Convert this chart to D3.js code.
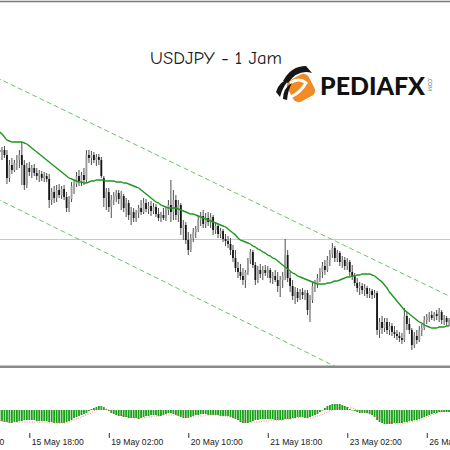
<!DOCTYPE html>
<html>
<head>
<meta charset="utf-8">
<script src="https://cdn.jsdelivr.net/npm/d3@7"></script>
<style>
  body { margin: 0; background: #fff; }
  svg { display: block; }
</style>
</head>
<body>
<svg id="chart" width="450" height="450"></svg>
<script>
// USDJPY H1 candles, 15 May 06:00 .. 26 May 19:00 (one value per bar)
var open = [145.04,145.00,145.04,144.94,144.48,144.74,144.64,144.78,144.84,144.94,
  144.74,144.34,144.68,144.60,144.68,144.58,144.52,144.56,144.48,144.52,
  144.46,144.04,144.20,144.08,144.24,144.14,144.26,144.10,143.88,144.06,
  144.32,144.36,144.52,144.42,144.54,144.44,144.94,144.88,144.94,144.84,
  144.90,144.84,144.48,144.08,144.20,143.90,144.04,144.12,144.18,144.06,
  144.12,143.88,143.98,143.74,143.80,143.68,143.78,143.88,143.80,143.98,
  143.86,143.92,143.82,143.90,143.76,143.68,143.74,143.68,143.84,143.94,
  143.80,144.04,143.74,143.94,143.48,143.54,143.24,143.04,143.28,143.40,
  143.46,143.64,143.72,143.56,143.68,143.60,143.70,143.44,143.52,143.36,
  143.42,143.26,143.22,143.16,143.04,142.88,142.68,142.60,142.52,142.44,
  142.60,142.84,143.00,142.74,142.44,142.64,142.56,142.64,142.58,142.64,
  142.48,142.52,142.44,142.32,142.44,142.52,142.94,142.48,142.32,142.12,
  142.20,142.08,142.20,142.14,142.18,141.84,142.04,142.32,142.36,142.48,
  142.60,142.72,142.64,142.84,142.96,143.08,142.88,142.98,142.80,142.84,
  142.72,142.80,142.60,142.52,142.38,142.28,142.32,142.24,142.28,142.16,
  142.22,142.14,142.18,141.44,141.60,141.48,141.60,141.44,141.52,141.40,
  141.36,141.32,141.28,141.24,141.72,141.56,141.44,141.14,141.32,141.24,
  141.44,141.48,141.64,141.70,141.74,141.68,141.76,141.72,141.80,141.64,
  141.68,141.60];
var high = [145.14,145.10,145.12,145.04,144.84,144.88,144.84,144.94,145.04,145.20,
  144.84,144.78,144.80,144.74,144.76,144.68,144.64,144.62,144.60,144.58,
  144.56,144.28,144.32,144.34,144.36,144.32,144.34,144.20,144.12,144.40,
  144.44,144.60,144.64,144.60,144.68,145.04,145.04,145.02,145.00,144.96,
  144.96,144.90,144.52,144.28,144.28,144.14,144.20,144.24,144.24,144.22,
  144.16,144.08,144.04,143.90,143.88,143.84,143.94,144.04,144.08,144.06,
  144.00,144.02,143.98,143.96,143.88,143.80,143.88,143.90,144.04,144.44,
  144.24,144.14,144.04,143.98,143.64,143.60,143.40,143.36,143.48,143.52,
  143.74,143.80,143.84,143.78,143.80,143.78,143.74,143.60,143.56,143.48,
  143.46,143.36,143.32,143.28,143.14,143.04,142.80,142.76,142.68,142.64,
  142.88,143.06,143.04,142.80,142.72,142.76,142.72,142.74,142.72,142.68,
  142.60,142.64,142.60,142.52,142.60,143.26,143.04,142.60,142.44,142.30,
  142.28,142.26,142.28,142.24,142.24,142.14,142.40,142.44,142.56,142.68,
  142.80,142.84,142.92,143.04,143.18,143.12,143.04,143.02,142.92,142.90,
  142.88,142.84,142.74,142.58,142.48,142.40,142.38,142.36,142.32,142.28,
  142.26,142.24,142.22,141.68,141.72,141.68,141.68,141.60,141.58,141.52,
  141.44,141.40,141.38,141.88,141.80,141.68,141.48,141.40,141.44,141.52,
  141.56,141.72,141.76,141.80,141.82,141.80,141.84,141.88,141.84,141.74,
  141.72,141.68];
var low = [144.92,144.84,144.88,144.36,144.40,144.56,144.60,144.64,144.68,144.34,
  144.24,144.28,144.52,144.48,144.52,144.44,144.40,144.42,144.40,144.40,
  143.88,143.94,143.98,144.00,144.08,144.06,144.04,143.80,143.80,144.00,
  144.16,144.30,144.32,144.32,144.34,144.38,144.78,144.74,144.78,144.72,
  144.74,144.48,143.90,143.84,143.80,143.68,143.94,144.00,143.96,143.84,
  143.80,143.70,143.64,143.54,143.60,143.60,143.68,143.74,143.76,143.80,
  143.76,143.72,143.76,143.70,143.62,143.60,143.64,143.62,143.74,143.60,
  143.64,143.64,143.60,143.34,143.24,143.16,142.94,143.00,143.20,143.28,
  143.40,143.52,143.48,143.48,143.52,143.48,143.34,143.36,143.28,143.28,
  143.20,143.12,143.08,142.94,142.80,142.60,142.48,142.44,142.34,142.28,
  142.54,142.76,142.68,142.34,142.38,142.48,142.44,142.52,142.48,142.38,
  142.36,142.40,142.20,142.10,142.28,142.44,142.40,142.20,142.04,141.96,
  142.00,142.04,142.06,142.04,141.74,141.60,141.98,142.20,142.28,142.40,
  142.48,142.54,142.60,142.72,142.88,142.80,142.80,142.72,142.68,142.64,
  142.64,142.52,142.44,142.32,142.20,142.14,142.16,142.12,142.08,142.08,
  142.06,142.08,141.34,141.28,141.36,141.40,141.36,141.34,141.32,141.28,
  141.24,141.20,141.16,141.20,141.44,141.36,141.04,141.08,141.16,141.20,
  141.32,141.44,141.56,141.60,141.64,141.62,141.64,141.60,141.56,141.54,
  141.52,141.52];
var close = [145.00,145.04,144.94,144.48,144.74,144.64,144.78,144.84,144.94,144.74,
  144.34,144.68,144.60,144.68,144.58,144.52,144.56,144.48,144.52,144.46,
  144.04,144.20,144.08,144.24,144.14,144.26,144.10,143.88,144.06,144.32,
  144.36,144.52,144.42,144.54,144.44,144.94,144.88,144.94,144.84,144.90,
  144.84,144.52,144.08,144.20,143.90,144.04,144.12,144.18,144.06,144.12,
  143.88,143.98,143.74,143.80,143.68,143.78,143.88,143.80,143.98,143.86,
  143.92,143.82,143.90,143.76,143.68,143.74,143.68,143.84,143.94,143.80,
  144.04,143.74,143.94,143.48,143.54,143.24,143.04,143.28,143.40,143.46,
  143.64,143.72,143.56,143.68,143.60,143.70,143.44,143.52,143.36,143.42,
  143.26,143.22,143.16,143.04,142.88,142.68,142.60,142.52,142.44,142.60,
  142.84,143.00,142.74,142.44,142.64,142.56,142.64,142.58,142.64,142.48,
  142.52,142.44,142.32,142.44,142.52,142.94,142.48,142.32,142.12,142.20,
  142.08,142.20,142.14,142.18,141.84,142.04,142.32,142.36,142.48,142.60,
  142.72,142.64,142.84,142.96,143.08,142.88,142.98,142.80,142.84,142.72,
  142.80,142.60,142.52,142.38,142.28,142.32,142.24,142.28,142.16,142.22,
  142.14,142.18,141.44,141.60,141.48,141.60,141.44,141.52,141.40,141.36,
  141.32,141.28,141.24,141.72,141.56,141.44,141.14,141.32,141.24,141.44,
  141.48,141.64,141.70,141.74,141.68,141.76,141.72,141.80,141.64,141.68,
  141.60,141.64];

// moving average (green line)
var ma = [145.40,145.36,145.30,145.24,145.22,145.20,145.20,145.20,145.20,145.20,
  145.18,145.16,145.12,145.08,145.04,145.00,144.96,144.92,144.88,144.84,
  144.80,144.76,144.72,144.68,144.64,144.60,144.56,144.52,144.48,144.46,
  144.44,144.42,144.40,144.40,144.38,144.38,144.40,144.42,144.42,144.44,
  144.44,144.44,144.44,144.42,144.42,144.42,144.42,144.40,144.40,144.40,
  144.38,144.38,144.36,144.34,144.32,144.30,144.28,144.24,144.20,144.16,
  144.12,144.08,144.04,144.00,143.98,143.94,143.92,143.90,143.88,143.88,
  143.88,143.88,143.86,143.84,143.82,143.80,143.78,143.76,143.76,143.74,
  143.72,143.70,143.68,143.66,143.64,143.62,143.60,143.58,143.56,143.54,
  143.52,143.50,143.46,143.42,143.38,143.34,143.28,143.24,143.22,143.20,
  143.18,143.16,143.12,143.10,143.06,143.04,143.00,142.98,142.94,142.92,
  142.88,142.86,142.82,142.78,142.74,142.70,142.66,142.62,142.58,142.56,
  142.52,142.50,142.48,142.46,142.44,142.42,142.40,142.38,142.36,142.36,
  142.36,142.36,142.38,142.38,142.40,142.42,142.42,142.44,142.46,142.48,
  142.50,142.50,142.52,142.52,142.54,142.54,142.56,142.56,142.56,142.56,
  142.54,142.52,142.48,142.44,142.40,142.34,142.28,142.20,142.14,142.08,
  142.02,141.96,141.90,141.84,141.80,141.76,141.72,141.68,141.64,141.60,
  141.58,141.54,141.52,141.50,141.48,141.48,141.48,141.50,141.50,141.50,
  141.52,141.52];

// MACD histogram and signal (lower panel)
var macdHist = [-0.11,-0.11,-0.12,-0.12,-0.13,-0.13,-0.12,-0.12,
  -0.11,-0.11,-0.10,-0.10,-0.10,-0.10,-0.10,-0.11,-0.11,-0.11,-0.11,-0.11,
  -0.12,-0.12,-0.13,-0.13,-0.13,-0.13,-0.13,-0.12,
  -0.11,-0.10,-0.08,-0.07,-0.06,-0.05,-0.04,-0.03,
  -0.01,0.01,0.02,0.03,0.04,0.04,0.03,0.01,
  -0.01,-0.03,-0.04,-0.05,-0.06,-0.06,-0.07,-0.07,-0.08,-0.08,
  -0.08,-0.08,-0.09,-0.08,
  -0.07,-0.06,-0.06,-0.05,-0.05,-0.05,-0.06,-0.06,-0.05,-0.04,
  -0.03,-0.03,-0.04,-0.05,
  -0.06,-0.07,-0.08,-0.08,-0.08,-0.07,-0.06,
  -0.05,-0.05,-0.04,-0.04,-0.04,-0.05,-0.05,-0.05,-0.05,-0.05,-0.06,-0.06,
  -0.06,-0.06,-0.07,-0.08,-0.09,-0.10,
  -0.12,-0.13,-0.13,-0.13,-0.12,-0.11,
  -0.10,-0.10,-0.09,-0.09,-0.09,-0.09,
  -0.09,-0.09,-0.10,-0.10,-0.10,-0.10,-0.09,-0.09,-0.09,-0.08,-0.08,
  -0.07,-0.07,-0.07,-0.08,-0.08,-0.07,-0.06,-0.05,-0.04,
  -0.02,0.00,0.02,0.04,
  0.05,0.06,0.06,0.06,0.06,0.05,0.04,0.03,
  0.01,0.00,-0.01,-0.02,-0.03,-0.03,-0.03,-0.03,-0.04,-0.05,
  -0.07,-0.10,-0.12,-0.13,-0.14,-0.14,-0.14,-0.14,-0.13,-0.13,
  -0.13,-0.13,-0.12,-0.12,-0.11,-0.11,-0.10,-0.10,-0.09,-0.08,-0.07,
  -0.06,-0.05,-0.04,-0.03,-0.03,-0.02,-0.02,-0.02,-0.02,-0.02];
var macdSignal = [-0.11,-0.11,-0.11,-0.12,-0.12,-0.12,-0.12,-0.12,
  -0.12,-0.12,-0.12,-0.12,-0.12,-0.12,-0.12,-0.12,-0.12,-0.12,-0.12,-0.12,
  -0.13,-0.13,-0.13,-0.13,-0.13,-0.13,-0.13,-0.13,
  -0.12,-0.11,-0.10,-0.09,-0.08,-0.07,-0.06,-0.05,-0.04,-0.03,-0.01,0.00,0.01,0.02,
  0.02,0.01,0.00,-0.01,-0.02,-0.03,
  -0.04,-0.05,-0.06,-0.06,-0.07,-0.07,-0.08,-0.08,
  -0.08,-0.08,-0.08,-0.07,-0.07,-0.07,-0.06,-0.06,-0.06,-0.06,-0.05,-0.05,
  -0.05,-0.05,-0.05,-0.05,-0.05,-0.06,-0.06,-0.06,
  -0.07,-0.07,-0.07,-0.06,
  -0.06,-0.06,-0.06,-0.05,-0.05,-0.05,-0.05,-0.05,-0.05,-0.06,-0.06,
  -0.06,-0.07,-0.07,-0.08,-0.08,-0.09,
  -0.10,-0.10,-0.11,-0.11,-0.12,-0.12,-0.12,-0.12,
  -0.12,-0.11,-0.11,-0.11,-0.10,-0.10,-0.10,-0.10,-0.10,
  -0.10,-0.09,-0.09,-0.09,-0.08,-0.08,-0.08,-0.07,
  -0.07,-0.07,-0.08,-0.08,-0.08,-0.07,
  -0.06,-0.05,-0.04,-0.03,-0.02,-0.01,0.00,0.01,
  0.02,0.02,0.03,0.03,0.03,0.02,0.02,0.01,
  0.00,-0.01,-0.02,-0.02,-0.03,-0.04,-0.05,-0.06,
  -0.07,-0.08,-0.09,-0.10,-0.11,-0.12,-0.13,-0.13,-0.14,
  -0.14,-0.14,-0.13,-0.13,-0.12,-0.12,-0.11,-0.11,
  -0.10,-0.09,-0.08,-0.07,-0.06,-0.05,-0.04,
  -0.03,-0.02,-0.02,-0.01,-0.01,0.00];

// time axis (bar index of each label)
var tickIdx = [-20, 12, 44, 76, 108, 140, 172];
var tickLabels = ["14 May 10:00", "15 May 18:00", "19 May 02:00", "20 May 10:00",
  "21 May 18:00", "23 May 02:00", "26 May 10:00"];

// drawn objects: trend channel [barIndex, price] and horizontal level
var channelUpper = [[0, 146.46], [181, 142.12]];
var channelLower = [[0, 144.04], [181, 139.58]];
var hLevel = 143.26;

var width = 450, height = 450;
var svg = d3.select("#chart");

var x = d3.scaleLinear().domain([0, 181]).range([-0.5, 449.1]);
var y = d3.scaleLinear().domain([148.00, 140.72]).range([2, 366]);
var yInd = d3.scaleLinear().domain([0.40, -0.22]).range([370, 432]);

var bars = close.map(function (c, i) {
  return { i: i, o: open[i], h: high[i], l: low[i], c: c };
});

var defs = svg.append("defs");
defs.append("clipPath").attr("id", "clipMain")
  .append("rect").attr("x", 0).attr("y", 2).attr("width", width).attr("height", 364);
defs.append("clipPath").attr("id", "clipInd")
  .append("rect").attr("x", 0).attr("y", 369).attr("width", width).attr("height", 63);

// frame
svg.append("line").attr("x1", 0).attr("x2", width).attr("y1", 1.5).attr("y2", 1.5)
  .attr("stroke", "#7a7a7a").attr("stroke-width", 1.5);

var main = svg.append("g").attr("clip-path", "url(#clipMain)");

// horizontal level
main.append("line")
  .attr("x1", 0).attr("x2", width)
  .attr("y1", Math.round(y(hLevel)) + 0.5).attr("y2", Math.round(y(hLevel)) + 0.5)
  .attr("stroke", "#c8c8c8").attr("stroke-width", 1);

// trend channel (extended past the anchors)
var chanLine = d3.line()
  .x(function (d) { return x(d[0]); })
  .y(function (d) { return y(d[1]); });
function extend(pts) {
  var slope = (pts[1][1] - pts[0][1]) / (pts[1][0] - pts[0][0]);
  return [[pts[0][0] - 10, pts[0][1] - 10 * slope], [pts[1][0] + 10, pts[1][1] + 10 * slope]];
}
[channelUpper, channelLower].forEach(function (c) {
  main.append("path")
    .attr("d", chanLine(extend(c)))
    .attr("fill", "none")
    .attr("stroke", "#6cc46c")
    .attr("stroke-width", 1)
    .attr("stroke-dasharray", "5,3");
});

// candles
main.append("g").selectAll("line").data(bars).enter()
  .append("line")
  .attr("x1", function (d) { return x(d.i); })
  .attr("x2", function (d) { return x(d.i); })
  .attr("y1", function (d) { return y(d.h); })
  .attr("y2", function (d) { return y(d.l); })
  .attr("stroke", "#3a3a3a")
  .attr("stroke-width", 0.9);

main.append("g").selectAll("rect").data(bars).enter()
  .append("rect")
  .attr("x", function (d) { return x(d.i) - 0.9; })
  .attr("width", 1.8)
  .attr("y", function (d) { return y(Math.max(d.o, d.c)); })
  .attr("height", function (d) { return Math.max(0.8, Math.abs(y(d.o) - y(d.c))); })
  .attr("fill", function (d) { return d.c >= d.o ? "#9c9c9c" : "#151515"; });

// moving average
main.append("path")
  .datum(ma)
  .attr("d", d3.line()
    .x(function (d, i) { return x(i); })
    .y(function (d) { return y(d); })
    .curve(d3.curveMonotoneX))
  .attr("fill", "none")
  .attr("stroke", "#1f961f")
  .attr("stroke-width", 1.4);

// title
svg.append("text")
  .attr("x", 216).attr("y", 64)
  .attr("text-anchor", "middle")
  .attr("textLength", 132)
  .attr("lengthAdjust", "spacingAndGlyphs")
  .style("font-family", "'Comic Sans MS', 'Comic Neue', Lato, sans-serif")
  .style("font-size", "17px")
  .attr("fill", "#1a1a1a")
  .text("USDJPY - 1 Jam");

// logo
var logo = svg.append("g");
logo.append("rect")
  .attr("x", -12).attr("y", -12).attr("width", 24).attr("height", 24).attr("rx", 6)
  .attr("transform", "translate(301,88) rotate(-28)")
  .attr("fill", "#f28a26");
logo.append("path")
  .attr("d", "M290,83 Q299,77 306,83 Q301,92 291,97")
  .attr("fill", "none").attr("stroke", "#fff").attr("stroke-width", 3);
logo.append("path")
  .attr("d", "M283,81 Q291,66 306,66 L312,73 Q298,69 288,83 Z")
  .attr("fill", "#161616");
logo.append("path")
  .attr("d", "M276,92 Q279,81 291,78 Q283,85 280,97 Z")
  .attr("fill", "#161616");
logo.append("path")
  .attr("d", "M283,99 Q283,88 292,83 Q288,90 287,100 Z")
  .attr("fill", "#161616");
logo.append("text")
  .attr("x", 320).attr("y", 95)
  .attr("textLength", 105)
  .attr("lengthAdjust", "spacingAndGlyphs")
  .style("font-family", "Lato, 'Open Sans', sans-serif")
  .style("font-weight", 900)
  .style("font-size", "25px")
  .attr("fill", "#111")
  .text("PEDIAFX");
logo.append("text")
  .attr("transform", "translate(428,78) rotate(90)")
  .style("font-family", "Lato, sans-serif")
  .style("font-size", "5px")
  .attr("fill", "#666")
  .text(".COM");

// panel separator
svg.append("rect").attr("x", 0).attr("y", 365.5).attr("width", width).attr("height", 2.5)
  .attr("fill", "#8a8a8a");

// MACD panel
var ind = svg.append("g").attr("clip-path", "url(#clipInd)");
ind.append("g").selectAll("rect").data(macdHist).enter()
  .append("rect")
  .attr("x", function (d, i) { return x(i) - 0.9; })
  .attr("width", 1.8)
  .attr("y", function (d) { return Math.min(yInd(d), yInd(0)); })
  .attr("height", function (d) { return Math.max(0.5, Math.abs(yInd(d) - yInd(0))); })
  .attr("fill", "#16a016");

ind.append("path")
  .datum(macdSignal)
  .attr("d", d3.line()
    .x(function (d, i) { return x(i); })
    .y(function (d) { return yInd(d); })
    .curve(d3.curveMonotoneX))
  .attr("fill", "none")
  .attr("stroke", "#ff6f6f")
  .attr("stroke-width", 1)
  .attr("stroke-dasharray", "1,1.5");

// time axis
var xAxis = d3.axisBottom(x)
  .tickValues(tickIdx)
  .tickFormat(function (d, i) { return tickLabels[i]; })
  .tickSize(5);
var axisG = svg.append("g").attr("transform", "translate(0,433)").call(xAxis);
axisG.select(".domain").remove();
axisG.selectAll(".tick line").attr("stroke", "#333");
axisG.selectAll(".tick text")
  .attr("text-anchor", "start")
  .attr("x", 2)
  .attr("y", 6)
  .attr("fill", "#222")
  .style("font-family", "'Liberation Sans', Arial, sans-serif")
  .style("font-size", "8.6px");
</script>
</body>
</html>
